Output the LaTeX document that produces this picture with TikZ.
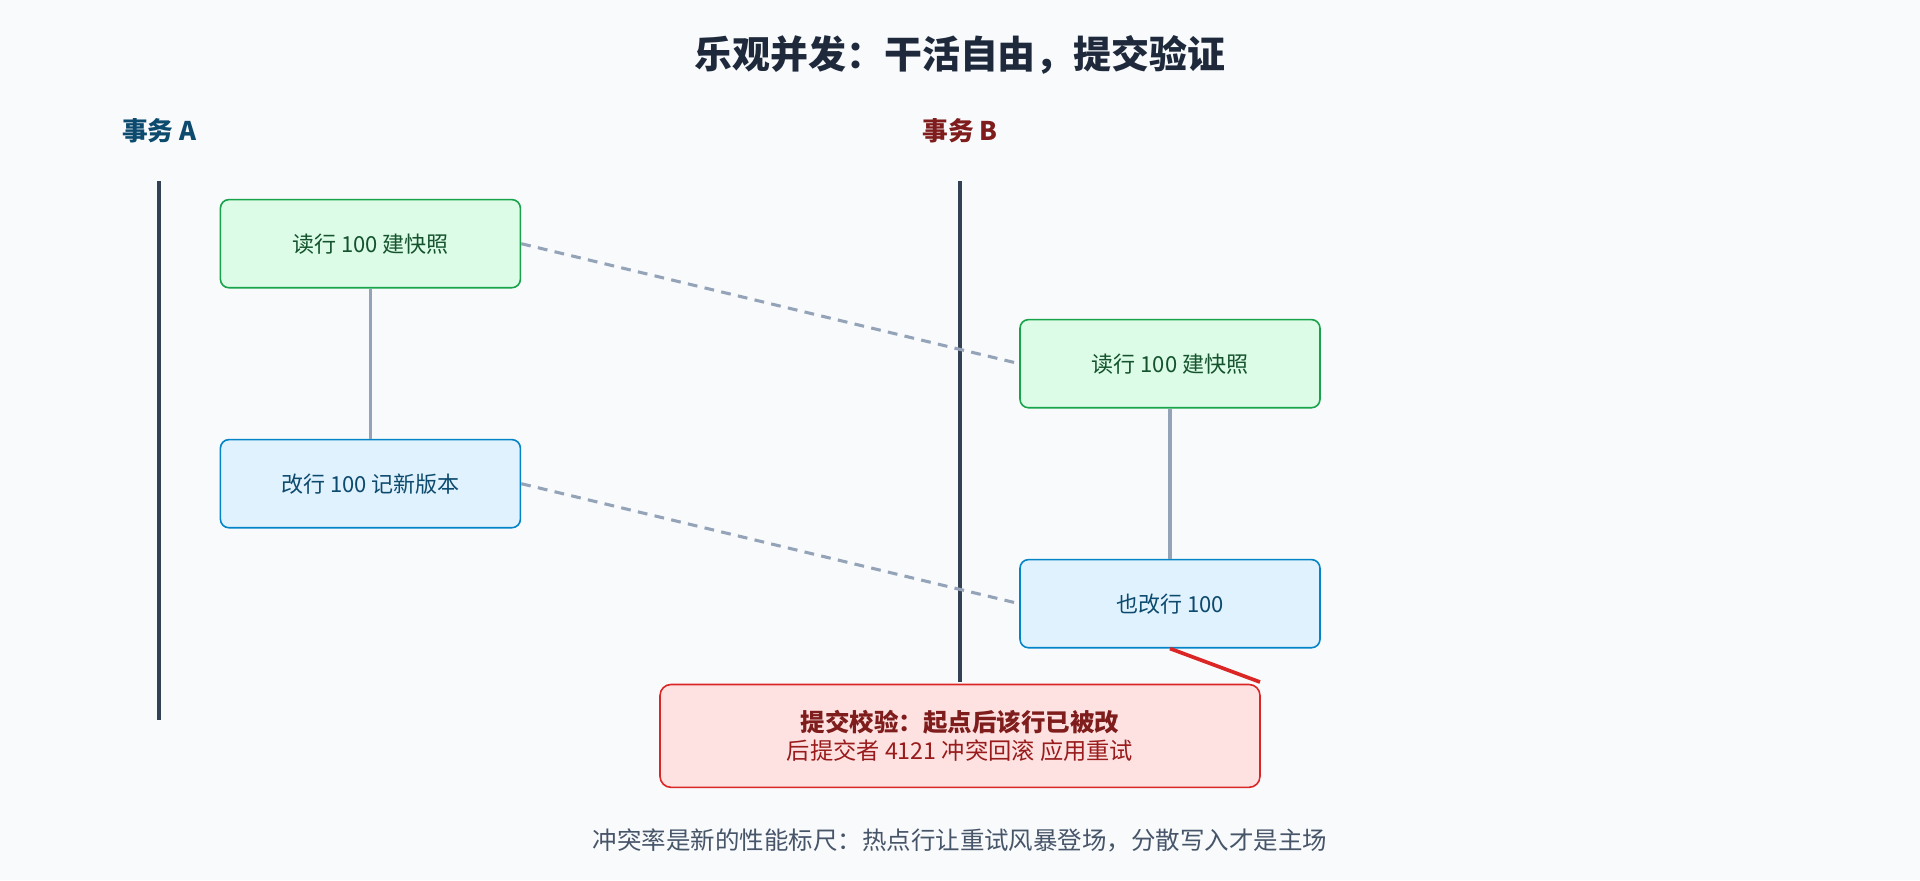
\documentclass[tikz,border=0pt]{standalone}
\usepackage{fontspec}
\setmainfont{Noto Sans CJK SC}
\usetikzlibrary{positioning}
\definecolor{bg}{HTML}{F8FAFC}
\definecolor{lane}{HTML}{334155}
\definecolor{gline}{HTML}{94A3B8}
\definecolor{gfill}{HTML}{DCFCE7}\definecolor{gdraw}{HTML}{16A34A}\definecolor{gtext}{HTML}{14532D}
\definecolor{bfill}{HTML}{E0F2FE}\definecolor{bdraw}{HTML}{0284C7}\definecolor{btext}{HTML}{0C4A6E}
\definecolor{rfill}{HTML}{FEE2E2}\definecolor{rdraw}{HTML}{DC2626}\definecolor{rtext}{HTML}{7F1D1D}\definecolor{rtext2}{HTML}{991B1B}
\definecolor{ttl}{HTML}{1E293B}\definecolor{foot}{HTML}{475569}
\definecolor{lblA}{HTML}{0C4A6E}\definecolor{lblB}{HTML}{7F1D1D}
\begin{document}
\begin{tikzpicture}[x=1pt,y=-1pt,
  box/.style={rounded corners=7pt,line width=1.3pt,minimum width=245pt,minimum height=72pt,inner sep=0pt,font=\fontsize{18}{22}\selectfont},
  gbox/.style={box,fill=gfill,draw=gdraw,text=gtext},
  bbox/.style={box,fill=bfill,draw=bdraw,text=btext},
  link/.style={gline,line width=2.5pt},
  dlink/.style={gline,line width=2.5pt,dash pattern=on 8pt off 6pt},
  lanel/.style={lane,line width=3pt}]
\useasboundingbox[fill=bg] (0,0) rectangle (1568,719);
\node[font=\bfseries\fontsize{31}{36}\selectfont,text=ttl] (title) at (784,45) {乐观并发：干活自由，提交验证};
\node[font=\bfseries\fontsize{21}{24}\selectfont,text=lblA] (la) at (130,107) {事务 A};
\node[font=\bfseries\fontsize{21}{24}\selectfont,text=lblB] (lb) at (784,107) {事务 B};
\coordinate (a0) at (130,148); \coordinate (a1) at (130,588);
\coordinate (b0) at (784,148); \coordinate (b1) at (784,557);
\draw[lanel] (a0) -- (a1);
\draw[lanel] (b0) -- (b1);
\node[gbox] (A1) at (302.5,199) {读行 100 建快照};
\node[bbox] (A2) at (302.5,395) {改行 100 记新版本};
\node[gbox] (B1) at (955.5,297) {读行 100 建快照};
\node[bbox] (B2) at (955.5,493) {也改行 100};
\draw[link] (A1) -- (A2);
\draw[link] (B1) -- (B2);
\draw[dlink] (A1.east) -- (B1.west);
\draw[dlink] (A2.east) -- (B2.west);
\node[rounded corners=9pt,line width=1.3pt,fill=rfill,draw=rdraw,minimum width=490pt,minimum height=84pt,inner sep=0pt,align=center] (R) at (784,601)
 {{\bfseries\fontsize{20}{26}\selectfont\color{rtext}提交校验：起点后该行已被改}\\[3pt]{\fontsize{19}{24}\selectfont\color{rtext2}后提交者 4121 冲突回滚 应用重试}};
\coordinate (rc) at (1029,557);
\draw[rdraw,line width=3pt] (B2.south) -- (rc);
\node[font=\fontsize{20}{24}\selectfont,text=foot] (F) at (784,686) {冲突率是新的性能标尺：热点行让重试风暴登场，分散写入才是主场};
\end{tikzpicture}
\end{document}
